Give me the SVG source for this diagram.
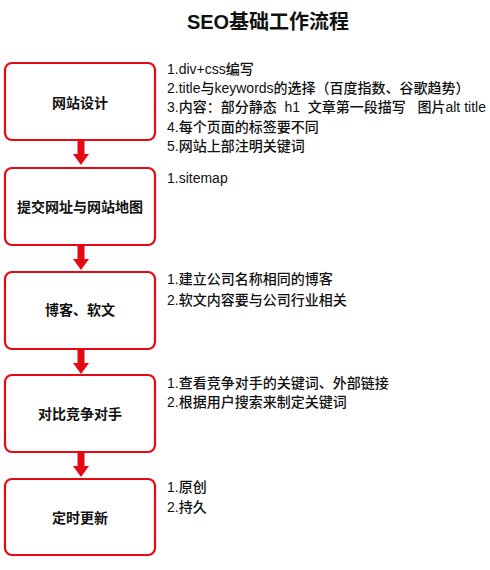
<svg xmlns="http://www.w3.org/2000/svg" width="490" height="570" viewBox="0 0 490 570">
<style>
.box{fill:#fff;stroke:#e50914;stroke-width:2.2}
.bt{font-family:"Liberation Sans","Noto Sans CJK SC",sans-serif;font-size:14px;font-weight:bold;fill:#111;text-anchor:middle}
.nt{font-family:"Liberation Sans","Noto Sans CJK SC",sans-serif;font-size:14px;font-weight:500;fill:#111;white-space:pre}
.arr{fill:#e50914}
</style>
<defs>
<path id="ar" d="M-3.5,0 H3.5 V14 H8 L0,25 L-8,14 H-3.5 Z"/>
</defs>
<rect width="490" height="570" fill="#fff"/>
<text x="268" y="29" font-family="Liberation Sans,'Noto Sans CJK SC',sans-serif" font-size="20" font-weight="bold" fill="#111" text-anchor="middle">SEO基础工作流程</text>
<g id="connectors">
<use href="#ar" class="arr" x="81" y="140"/>
<use href="#ar" class="arr" x="81" y="245"/>
<use href="#ar" class="arr" x="81" y="349"/>
<use href="#ar" class="arr" x="81" y="452"/>
</g>
<g id="n1"><rect class="box" x="5" y="63" width="150" height="77" rx="7"/><text class="bt" x="80" y="108">网站设计</text></g>
<g id="n2"><rect class="box" x="5" y="168" width="150" height="77" rx="7"/><text class="bt" x="80" y="212">提交网址与网站地图</text></g>
<g id="n3"><rect class="box" x="5" y="272" width="150" height="77" rx="7"/><text class="bt" x="80" y="315">博客、软文</text></g>
<g id="n4"><rect class="box" x="5" y="375" width="150" height="77" rx="7"/><text class="bt" x="80" y="419">对比竞争对手</text></g>
<g id="n5"><rect class="box" x="5" y="479" width="150" height="76" rx="7"/><text class="bt" x="80" y="523">定时更新</text></g>
<g id="notes1" class="nt">
<text x="167" y="74">1.div+css编写</text>
<text x="167" y="93">2.title与keywords的选择（百度指数、谷歌趋势）</text>
<text x="167" y="112" xml:space="preserve">3.内容：部分静态  h1  文章第一段描写   图片alt title</text>
<text x="167" y="132">4.每个页面的标签要不同</text>
<text x="167" y="151">5.网站上部注明关键词</text>
</g>
<g id="notes2" class="nt"><text x="167" y="183">1.sitemap</text></g>
<g id="notes3" class="nt"><text x="167" y="284">1.建立公司名称相同的博客</text><text x="167" y="305">2.软文内容要与公司行业相关</text></g>
<g id="notes4" class="nt"><text x="167" y="388">1.查看竞争对手的关键词、外部链接</text><text x="167" y="407">2.根据用户搜索来制定关键词</text></g>
<g id="notes5" class="nt"><text x="167" y="492">1.原创</text><text x="167" y="512">2.持久</text></g>
</svg>
